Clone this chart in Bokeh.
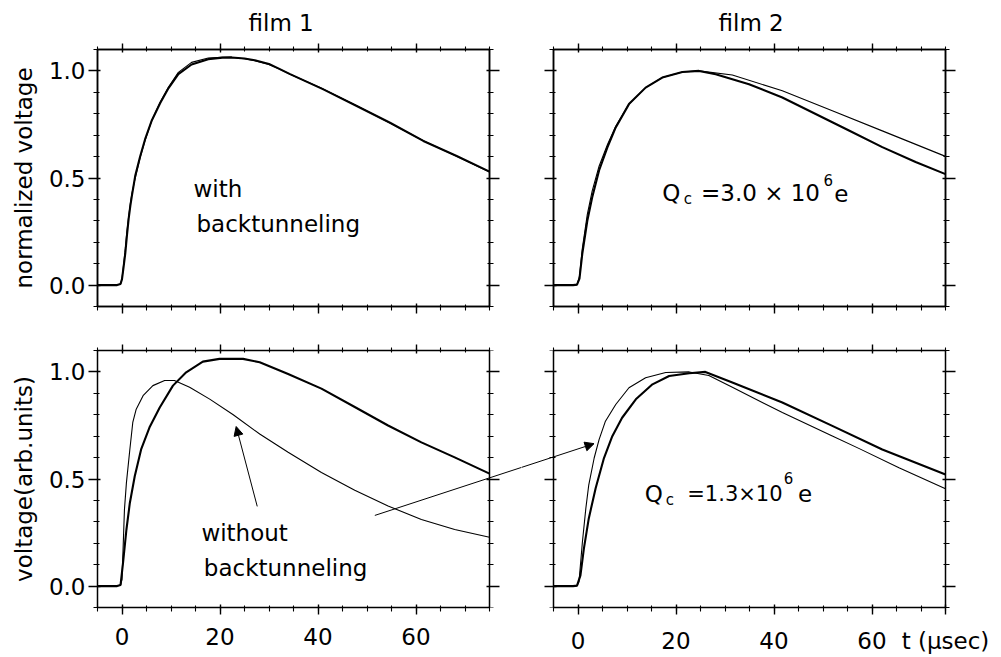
from bokeh.plotting import figure
from bokeh.layouts import column, row
from bokeh.models import (FixedTicker, LinearAxis, Range1d, Label, Arrow, NormalHead,
                          NumeralTickFormatter)
from bokeh.embed import file_html
from bokeh.resources import INLINE

# ---------------- data ----------------
# film 1, normalized (top left): measured and fit with backtunneling
f1n_meas_t = [-5, -1, -0.3, 0.0, 0.3, 0.68, 1.0, 1.36, 1.7, 2.04, 2.7, 3.7, 4.7, 6.1, 7.8, 9.5,
              11.5, 14.2, 17.6, 20.5, 22.4, 25, 27.1, 30, 31.9, 34.3, 41.1, 47.9, 54.7, 61.5, 68.3, 75]
f1n_meas_v = [0, 0, 0.005, 0.028, 0.08, 0.15, 0.23, 0.31, 0.37, 0.42, 0.51, 0.60, 0.68, 0.77, 0.85, 0.92,
              0.985, 1.03, 1.055, 1.062, 1.063, 1.058, 1.05, 1.032, 1.012, 0.985, 0.914, 0.836, 0.758, 0.673, 0.603, 0.53]
f1n_fit_t = [-5, -1, -0.3, 0.0, 0.3, 0.68, 1.0, 1.36, 1.7, 2.04, 2.7, 3.7, 4.7, 6.1, 7.8, 9.5,
             11.5, 14.2, 17.6, 20.5, 22.4, 25, 27.1, 30, 31.9, 34.3, 41.1, 47.9, 54.7, 61.5, 68.3, 75]
f1n_fit_v = [0, 0, 0.005, 0.03, 0.09, 0.17, 0.25, 0.32, 0.38, 0.43, 0.50, 0.595, 0.675, 0.77, 0.855, 0.925,
             0.993, 1.04, 1.06, 1.064, 1.063, 1.057, 1.048, 1.03, 1.011, 0.984, 0.915, 0.837, 0.757, 0.674, 0.602, 0.528]

# film 2, normalized (top right): measured and fit Qc = 3.0e6 e
f2n_meas_t = [-5, -1, -0.2, 0.3, 0.88, 1.9, 2.9, 4.3, 6.0, 7.7, 10.4, 13.8, 17.2, 21.3, 24.7,
              28.1, 34.9, 41.7, 48.5, 55.3, 62.1, 68.9, 75]
f2n_meas_v = [0, 0, 0.002, 0.03, 0.147, 0.30, 0.41, 0.535, 0.643, 0.736, 0.845, 0.922, 0.969, 0.995, 1.0,
              0.984, 0.938, 0.876, 0.799, 0.722, 0.644, 0.575, 0.518]
f2n_fit_t = [-5, -1, -0.2, 0.3, 0.88, 1.9, 2.9, 4.3, 6.0, 7.7, 10.4, 13.8, 17.2, 21.3, 24.7,
             31.5, 41.7, 51.9, 62.1, 75]
f2n_fit_v = [0, 0, 0.002, 0.04, 0.17, 0.33, 0.44, 0.555, 0.655, 0.742, 0.845, 0.922, 0.969, 0.995, 1.0,
             0.981, 0.907, 0.814, 0.72, 0.601]

# film 1, arbitrary units (bottom left): measured and fit without backtunneling
f1_meas_t = [-5, -1, -0.3, 0.2, 0.9, 1.6, 2.6, 3.9, 5.6, 7.7, 10.4, 13.1, 16.5, 19.9, 24.7,
             28.1, 33.9, 40.7, 47.5, 54.3, 61.1, 67.9, 75]
f1_meas_v = [0, 0, 0.005, 0.106, 0.263, 0.388, 0.513, 0.638, 0.74, 0.834, 0.936, 0.998, 1.048, 1.061, 1.061,
             1.045, 0.99, 0.922, 0.836, 0.75, 0.671, 0.601, 0.525]
f1_nobt_t = [-5, -1, -0.3, 0.0, 0.5, 0.9, 1.6, 2.2, 2.9, 4.3, 6.3, 8.7, 10.7, 13.8, 17.9, 22.7,
             28.1, 33.9, 40.7, 47.5, 54.3, 61.1, 67.9, 75]
f1_nobt_v = [0, 0, 0.005, 0.03, 0.357, 0.482, 0.638, 0.764, 0.826, 0.889, 0.936, 0.96, 0.96, 0.928, 0.873, 0.80,
             0.71, 0.625, 0.53, 0.447, 0.374, 0.311, 0.264, 0.228]

# film 2, arbitrary units (bottom right): measured and fit Qc = 1.3e6 e
f2_meas_t = [-5, -1, -0.2, 0.5, 1.2, 2.2, 3.6, 5.3, 7.0, 9.0, 11.8, 15.2, 18.6, 22.7, 26,
             31.5, 41.7, 51.9, 62.1, 75]
f2_meas_v = [0, 0, 0.002, 0.05, 0.175, 0.316, 0.457, 0.598, 0.70, 0.786, 0.872, 0.942, 0.981, 0.994, 1.0,
             0.951, 0.857, 0.748, 0.638, 0.521]
f2_fit_t = [-5, -1, -0.2, 0.2, 0.9, 1.6, 2.2, 3.3, 4.3, 5.6, 7.7, 10.4, 13.8, 17.9, 22.7, 26.7,
            31.5, 41.7, 51.9, 57.3, 65.5, 75]
f2_fit_v = [0, 0, 0.002, 0.02, 0.206, 0.363, 0.473, 0.598, 0.684, 0.77, 0.848, 0.926, 0.973, 0.997, 1.0, 0.983,
            0.928, 0.81, 0.701, 0.643, 0.552, 0.454]

x_major_ticks = [0, 20, 40, 60]
x_minor_ticks = list(range(-5, 76, 5))
y_major_ticks = [0.0, 0.5, 1.0]
y_minor_ticks = [round(-0.1 + 0.1 * i, 1) for i in range(13)]

panel_titles = ["film 1", "film 2"]
y_titles = ["normalized voltage", "voltage(arb.units)"]
x_unit_label = "t (\u03bcsec)"

# ---------------- layout / style ----------------
FONT = "DejaVu Sans"
FS = "23px"
TICK_FS = "23px"
X_RANGE = (-5, 75)
Y_RANGE = (-0.1, 1.1)
FW, FH = 392, 257
L_OUT, GAP_L, GAP_R = 97, 32, 32
R_OUT = 1001 - L_OUT - FW - GAP_L - GAP_R - FW
T_OUT, MID_T, MID_B = 48, 22, 22
B_OUT = 657 - T_OUT - FH - MID_T - MID_B - FH
PX_PER_X = FW / (X_RANGE[1] - X_RANGE[0])


def style_axis(ax, ticker, labels, fmt=None, out_major=8, out_minor=4, in_major=3, in_minor=2,
               standoff=3):
    ax.ticker = ticker
    ax.axis_line_color = "black"
    ax.axis_line_width = 1.5
    ax.major_tick_line_color = "black"
    ax.major_tick_line_width = 1.4
    ax.minor_tick_line_color = "black"
    ax.minor_tick_line_width = 1.1
    ax.major_tick_out = out_major
    ax.major_tick_in = in_major
    ax.minor_tick_out = out_minor
    ax.minor_tick_in = in_minor
    if fmt is not None:
        ax.formatter = fmt
    if labels:
        ax.major_label_text_font = FONT
        ax.major_label_text_font_size = TICK_FS
        ax.major_label_text_color = "black"
        ax.major_label_standoff = standoff
    else:
        ax.major_label_text_font_size = "1px"
        ax.major_label_text_color = None
        ax.major_label_standoff = 0


def make_panel(bl, br, bt, bb, ylab, xlab, ytitle=None, title=None, title_offset=0,
               xticker=None, ext_left=0, ext_right=0):
    """ext_left / ext_right: extra frame pixels beyond the box, so that an
    annotation line may cross the gap between two panels."""
    xr = Range1d(X_RANGE[0] - ext_left / PX_PER_X, X_RANGE[1] + ext_right / PX_PER_X)
    p = figure(frame_width=FW + ext_left + ext_right, frame_height=FH,
               x_range=xr, y_range=Range1d(*Y_RANGE),
               y_axis_location="right" if ext_left else "left",
               min_border_left=bl, min_border_right=br, min_border_top=bt, min_border_bottom=bb,
               output_backend="svg", toolbar_location=None, title=title)
    p.grid.visible = False
    p.outline_line_color = None if (ext_left or ext_right) else "black"
    p.outline_line_width = 1.5
    p.background_fill_color = "white"
    p.border_fill_color = "white"
    xt = FixedTicker(ticks=x_major_ticks, minor_ticks=x_minor_ticks)
    yt = FixedTicker(ticks=y_major_ticks, minor_ticks=y_minor_ticks)
    bottom = p.xaxis[0]
    style_axis(bottom, xticker or xt, xlab, out_major=7, out_minor=4, standoff=13)
    bottom.bounds = X_RANGE
    top = LinearAxis(bounds=X_RANGE)
    style_axis(top, xt, False, out_major=6, out_minor=3)
    p.add_layout(top, "above")
    yax = p.yaxis[0]
    if ext_left:
        # default y axis is the right spine; left spine drawn at x = X_RANGE[0]
        style_axis(yax, yt, False, out_major=10, out_minor=4)
        lspine = LinearAxis(fixed_location=X_RANGE[0])
        style_axis(lspine, yt, False, out_major=3, out_minor=2, in_major=9, in_minor=4)
        p.add_layout(lspine, "right")
    else:
        style_axis(yax, yt, ylab, NumeralTickFormatter(format="0.0"), out_major=9, out_minor=4)
        if ext_right:
            rspine = LinearAxis(fixed_location=X_RANGE[1])
            style_axis(rspine, yt, False, out_major=3, out_minor=2, in_major=10, in_minor=4)
            p.add_layout(rspine, "left")
        else:
            right = LinearAxis()
            style_axis(right, yt, False, out_major=10, out_minor=4)
            p.add_layout(right, "right")
    if ytitle:
        yax.axis_label = ytitle
        yax.axis_label_text_font = FONT
        yax.axis_label_text_font_size = FS
        yax.axis_label_text_font_style = "normal"
        yax.axis_label_text_color = "black"
        yax.axis_label_standoff = 9
    if title:
        p.title.align = "left"
        p.title.offset = title_offset
        p.title.text_font = FONT
        p.title.text_font_size = FS
        p.title.text_font_style = "normal"
        p.title.text_color = "black"
        p.title.text_line_height = 1.0
        p.title.standoff = 15
    return p, bottom


def lbl(p, x, y, text, size=FS):
    p.add_layout(Label(x=x, y=y, text=text, text_font=FONT, text_font_size=size,
                       text_color="black", text_baseline="alphabetic", text_align="left"))


THICK, THIN = 2.1, 1.1
SUB = "15px"
HALF_GAP = GAP_L  # bottom row: frames meet in the middle of the gap

# top left
p1, _ = make_panel(L_OUT, GAP_L, T_OUT, MID_T, True, False, y_titles[0], panel_titles[0], 151)
p1.line(f1n_fit_t, f1n_fit_v, line_color="black", line_width=THIN)
p1.line(f1n_meas_t, f1n_meas_v, line_color="black", line_width=THICK)
lbl(p1, 14.6, 0.447, "with")
lbl(p1, 15.2, 0.286, "backtunneling")

# top right
p2, _ = make_panel(GAP_R, R_OUT, T_OUT, MID_T, False, False, None, panel_titles[1], 165)
p2.line(f2n_fit_t, f2n_fit_v, line_color="black", line_width=THIN)
p2.line(f2n_meas_t, f2n_meas_v, line_color="black", line_width=THICK)
lbl(p2, 17.2, 0.428, "Q")
lbl(p2, 21.6, 0.403, "c", SUB)
lbl(p2, 25.1, 0.428, "=3.0 \u00d7 10")
lbl(p2, 50.1, 0.489, "6", SUB)
lbl(p2, 52.3, 0.428, "e")

# bottom left
p3, _ = make_panel(L_OUT, 0, MID_B, B_OUT, True, True, y_titles[1], ext_right=HALF_GAP)
p3.line(f1_nobt_t, f1_nobt_v, line_color="black", line_width=THIN)
p3.line(f1_meas_t, f1_meas_v, line_color="black", line_width=THICK)
lbl(p3, 16.2, 0.249, "without")
lbl(p3, 16.7, 0.085, "backtunneling")
p3.add_layout(Arrow(end=NormalHead(size=9, fill_color="black", line_color="black"),
                    x_start=27.6, y_start=0.372, x_end=23.3, y_end=0.745,
                    line_color="black", line_width=1))

# bottom right (the unit label sits at the right end of its time axis)
br_ticker = FixedTicker(ticks=x_major_ticks + [X_RANGE[1]], minor_ticks=x_minor_ticks)
p4, p4_bottom = make_panel(0, R_OUT, MID_B, B_OUT, False, True, xticker=br_ticker,
                           ext_left=HALF_GAP)
p4_bottom.major_label_overrides = {X_RANGE[1]: x_unit_label, str(X_RANGE[1]): x_unit_label}
p4.line(f2_fit_t, f2_fit_v, line_color="black", line_width=THIN)
p4.line(f2_meas_t, f2_meas_v, line_color="black", line_width=THICK)
lbl(p4, 13.6, 0.432, "Q")
lbl(p4, 17.9, 0.404, "c", SUB)
lbl(p4, 22.3, 0.432, "=1.3\u00d710", "21px")
lbl(p4, 42.0, 0.504, "6", SUB)
lbl(p4, 44.9, 0.432, "e")

# long arrow from bottom-left text to bottom-right curve, drawn in both panels
arrow_tail = (51.6, 0.33)   # bottom-left panel coordinates
arrow_tip = (3.27, 0.665)   # bottom-right panel coordinates
dx_units = (FW + GAP_L + GAP_R) / PX_PER_X
p3.add_layout(Arrow(end=None, x_start=arrow_tail[0], y_start=arrow_tail[1],
                    x_end=arrow_tip[0] + dx_units, y_end=arrow_tip[1],
                    line_color="black", line_width=1))
p4.add_layout(Arrow(end=NormalHead(size=9, fill_color="black", line_color="black"),
                    x_start=arrow_tail[0] - dx_units, y_start=arrow_tail[1],
                    x_end=arrow_tip[0], y_end=arrow_tip[1],
                    line_color="black", line_width=1))

layout = column(row(p1, p2), row(p3, p4))
open("out.html", "w").write(file_html(layout, INLINE))
